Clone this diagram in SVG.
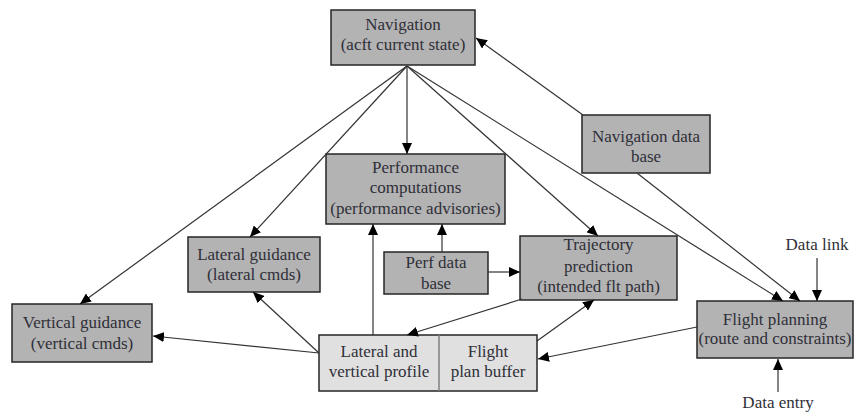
<svg xmlns="http://www.w3.org/2000/svg" width="855" height="415" viewBox="0 0 855 415">
  <style>
    .box { fill: #b3b3b3; stroke: #262626; stroke-width: 1.5; }
    .buf { fill: #e0e0e0; stroke: #262626; stroke-width: 1.5; }
    .div { stroke: #808080; stroke-width: 1.5; }
    text { font-family: "Liberation Serif", "Times New Roman", serif; font-size: 17px; fill: #2f2f38; text-anchor: middle; }
    .edge { fill: none; stroke: #333; stroke-width: 1.2; marker-end: url(#arrow); }
  </style>
  <defs>
    <marker id="arrow" markerUnits="userSpaceOnUse" markerWidth="12" markerHeight="10" refX="11" refY="5" orient="auto">
      <path d="M0,0 L11,5 L0,10 z" fill="#000"/>
    </marker>
  </defs>

  <rect width="855" height="415" fill="#fff"/>

  <g id="navigation">
    <rect class="box" x="331" y="10" width="144" height="55"/>
    <text x="403" y="30">Navigation</text>
    <text x="403" y="50">(acft current state)</text>
  </g>

  <g id="nav-database">
    <rect class="box" x="582" y="115" width="128" height="58"/>
    <text x="646" y="142">Navigation data</text>
    <text x="646" y="162">base</text>
  </g>

  <g id="performance">
    <rect class="box" x="326" y="154" width="179" height="70"/>
    <text x="415.5" y="173">Performance</text>
    <text x="415.5" y="193">computations</text>
    <text x="415.5" y="214">(performance advisories)</text>
  </g>

  <g id="lateral-guidance">
    <rect class="box" x="188" y="237" width="132" height="55"/>
    <text x="254" y="260">Lateral guidance</text>
    <text x="254" y="280">(lateral cmds)</text>
  </g>

  <g id="perf-database">
    <rect class="box" x="384" y="252" width="104" height="42"/>
    <text x="436" y="268">Perf data</text>
    <text x="436" y="289">base</text>
  </g>

  <g id="trajectory">
    <rect class="box" x="520" y="236" width="157" height="64"/>
    <text x="598.5" y="250">Trajectory</text>
    <text x="598.5" y="272">prediction</text>
    <text x="598.5" y="292">(intended flt path)</text>
  </g>

  <g id="vertical-guidance">
    <rect class="box" x="12" y="304" width="140" height="58"/>
    <text x="82" y="328">Vertical guidance</text>
    <text x="82" y="349">(vertical cmds)</text>
  </g>

  <g id="flight-plan-buffer">
    <rect class="buf" x="319" y="335" width="218" height="56"/>
    <line class="div" x1="439" y1="335" x2="439" y2="391"/>
    <text x="379" y="357">Lateral and</text>
    <text x="379" y="377">vertical profile</text>
    <text x="488" y="357">Flight</text>
    <text x="488" y="377">plan buffer</text>
  </g>

  <g id="flight-planning">
    <rect class="box" x="697" y="301" width="156" height="57"/>
    <text x="775" y="325">Flight planning</text>
    <text x="775" y="344">(route and constraints)</text>
  </g>

  <g id="inputs">
    <text x="817" y="250">Data link</text>
    <text x="778" y="408">Data entry</text>
  </g>

  <g id="connectors">
    <path class="edge" d="M407,66 L407,154"/>
    <path class="edge" d="M407,66 L250,237"/>
    <path class="edge" d="M407,66 L80,304"/>
    <path class="edge" d="M407,66 L598,236"/>
    <path class="edge" d="M407,66 L783,301"/>
    <path class="edge" d="M583,115 L476,38"/>
    <path class="edge" d="M637,173 L800,301"/>
    <path class="edge" d="M817,258 L817,301"/>
    <path class="edge" d="M778,392 L778,359"/>
    <path class="edge" d="M442,252 L442,224"/>
    <path class="edge" d="M488,272 L520,272"/>
    <path class="edge" d="M373,335 L373,224"/>
    <path class="edge" d="M522,299 L407,335"/>
    <path class="edge" d="M537,341 L594,300"/>
    <path class="edge" d="M697,327 L538,359"/>
    <path class="edge" d="M319,353 L253,292"/>
    <path class="edge" d="M319,353 L153,336"/>
  </g>
</svg>
